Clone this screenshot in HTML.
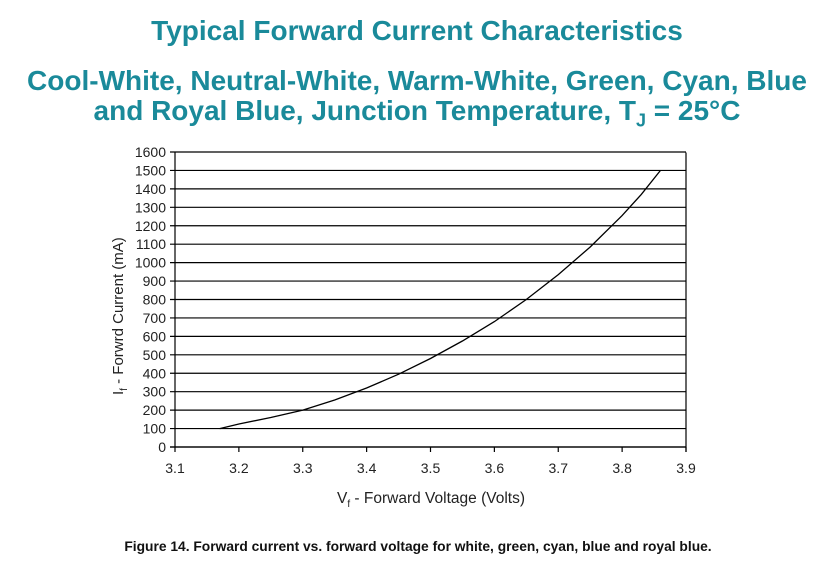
<!DOCTYPE html>
<html><head><style>
body{margin:0;background:#fff;width:834px;height:569px;overflow:hidden;font-family:"Liberation Sans",Arial,sans-serif;}
.t{position:absolute;left:0;width:834px;text-align:center;color:#1a8a9a;font-weight:bold;white-space:nowrap;}
</style></head><body>
<div class="t" style="top:15px;font-size:28px;">Typical Forward Current Characteristics</div>
<div class="t" style="top:66px;font-size:28px;line-height:30px;">Cool-White, Neutral-White, Warm-White, Green, Cyan, Blue<br>and Royal Blue, Junction Temperature, T<sub style="font-size:18px">J</sub> = 25°C</div>
<svg width="834" height="569" style="position:absolute;left:0;top:0" font-family="Liberation Sans, Arial, sans-serif">
<g stroke="#000" stroke-width="1.2" fill="none">
<line x1="175" y1="152.5" x2="175" y2="447"/>
<line x1="686" y1="152.5" x2="686" y2="452"/>
<line x1="170" y1="447" x2="686" y2="447"/>
<g id="g"></g>
</g>
<g id="lab" font-size="14" fill="#222"></g>
<polyline fill="none" stroke="#000" stroke-width="1.3" points="219.7,428.6 238.9,424 270.8,417.5 302.8,410.1 334.7,400 366.6,388 398.6,374.2 430.5,358.5 462.4,341 494.4,321.6 526.3,299.5 558.3,274.6 590.2,247 622.1,215.6 641.3,194.4 660.5,170.4"/>
<text x="337" y="503" font-size="15.5" fill="#222">V<tspan font-size="10" dy="4">f</tspan><tspan dy="-4"> - Forward Voltage (Volts)</tspan></text>
<text transform="translate(123,395) rotate(-90)" font-size="15" fill="#222">I<tspan font-size="10" dy="4">f</tspan><tspan dy="-4"> - Forwrd Current (mA)</tspan></text>
<text x="418" y="551" text-anchor="middle" font-size="13.8" font-weight="bold" fill="#111">Figure 14.  Forward current vs. forward voltage for white, green, cyan, blue and royal blue.</text>
</svg>
<script>
var g=document.getElementById('g'),lab=document.getElementById('lab'),ns='http://www.w3.org/2000/svg';
function el(p,t,a,txt){var e=document.createElementNS(ns,t);for(var k in a)e.setAttribute(k,a[k]);if(txt!=null)e.textContent=txt;p.appendChild(e);}
for(var i=0;i<=16;i++){var y=447-i*295/16;el(g,'line',{x1:170,y1:y,x2:686,y2:y});el(lab,'text',{x:166,y:y+5,'text-anchor':'end'},String(i*100));}
for(var j=0;j<=8;j++){var x=175+j*511/8;el(g,'line',{x1:x,y1:447,x2:x,y2:452});el(lab,'text',{x:x,y:473,'text-anchor':'middle'},(3.1+j*0.1).toFixed(1));}
</script>
</body></html>
